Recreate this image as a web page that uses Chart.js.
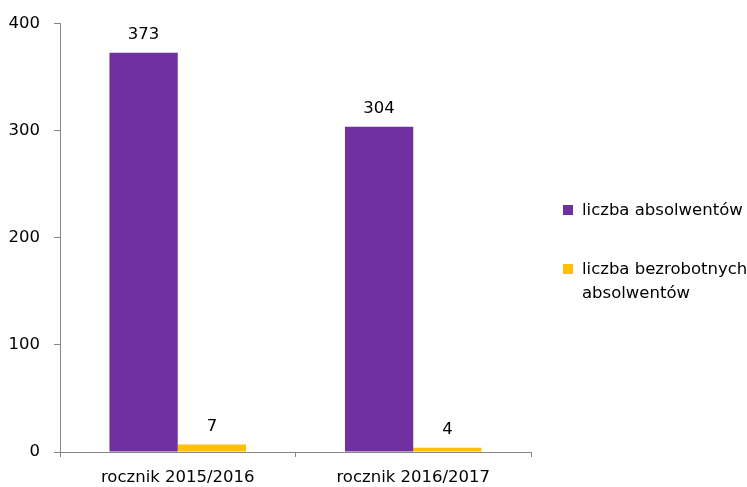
<!DOCTYPE html>
<html>
<head>
<meta charset="utf-8">
<script src="https://cdn.jsdelivr.net/npm/chart.js@4/dist/chart.umd.min.js"></script>
<style>
  html, body { margin: 0; padding: 0; background: #fff; }
  #wrap { width: 747px; height: 487px; position: relative; }
</style>
</head>
<body>
<div id="wrap"><canvas id="c"></canvas></div>
<script>
const categories = ['rocznik 2015/2016', 'rocznik 2016/2017'];
const graduates = [373, 304];
const unemployed = [7, 4];
const seriesNames = ['liczba absolwentów', ['liczba bezrobotnych', 'absolwentów']];
const seriesColors = ['#7030A0', '#FFC000'];
const yTicks = [0, 100, 200, 300, 400];

const FONT = '"DejaVu Sans", sans-serif';
const SIZE = 16.5;

// value labels above each bar
const valueLabels = {
  id: 'valueLabels',
  afterDatasetsDraw(chart) {
    const ctx = chart.ctx;
    ctx.save();
    ctx.font = SIZE + 'px ' + FONT;
    ctx.fillStyle = '#000';
    ctx.textAlign = 'center';
    ctx.textBaseline = 'middle';
    chart.data.datasets.forEach((ds, i) => {
      chart.getDatasetMeta(i).data.forEach((bar, j) => {
        ctx.fillText(String(ds.data[j]), bar.x, bar.y - 18);
      });
    });
    ctx.restore();
  }
};

// legend drawn at the right, with a wrapped second label
const sideLegend = {
  id: 'sideLegend',
  afterDraw(chart) {
    const ctx = chart.ctx;
    const x = chart.chartArea.right + 32;
    const rows = [210, 269];
    ctx.save();
    ctx.font = SIZE + 'px ' + FONT;
    ctx.textBaseline = 'middle';
    seriesNames.forEach((name, i) => {
      const y = rows[i];
      ctx.fillStyle = seriesColors[i];
      ctx.fillRect(x, y - 5, 10, 10);
      ctx.fillStyle = '#000';
      const lines = Array.isArray(name) ? name : [name];
      lines.forEach((ln, k) => ctx.fillText(ln, x + 19, y + 1 + k * 24));
    });
    ctx.restore();
  }
};

new Chart(document.getElementById('c'), {
  type: 'bar',
  data: {
    labels: categories,
    datasets: [
      { label: 'liczba absolwentów', data: graduates, backgroundColor: seriesColors[0] },
      { label: 'liczba bezrobotnych absolwentów', data: unemployed, backgroundColor: seriesColors[1] }
    ]
  },
  options: {
    responsive: true,
    maintainAspectRatio: false,
    animation: false,
    layout: { padding: { top: 22, right: 216, bottom: 0, left: 0 } },
    categoryPercentage: 0.58,
    barPercentage: 1,
    plugins: { legend: { display: false }, tooltip: { enabled: false } },
    scales: {
      x: {
        grid: { offset: true, drawOnChartArea: false, drawTicks: true, tickLength: 5, color: '#868686' },
        border: { color: '#868686' },
        ticks: { color: '#000', font: { family: FONT, size: SIZE }, padding: 11 },
        afterFit(scale) { scale.height = 35; }
      },
      y: {
        min: 0,
        max: 400,
        afterBuildTicks(scale) { scale.ticks = yTicks.map(v => ({ value: v })); },
        grid: { drawOnChartArea: false, drawTicks: true, tickLength: 6, color: '#868686' },
        border: { color: '#868686' },
        ticks: { color: '#000', font: { family: FONT, size: SIZE }, padding: 14 },
        afterFit(scale) { scale.width = 60; }
      }
    }
  },
  plugins: [valueLabels, sideLegend]
});
</script>
</body>
</html>
